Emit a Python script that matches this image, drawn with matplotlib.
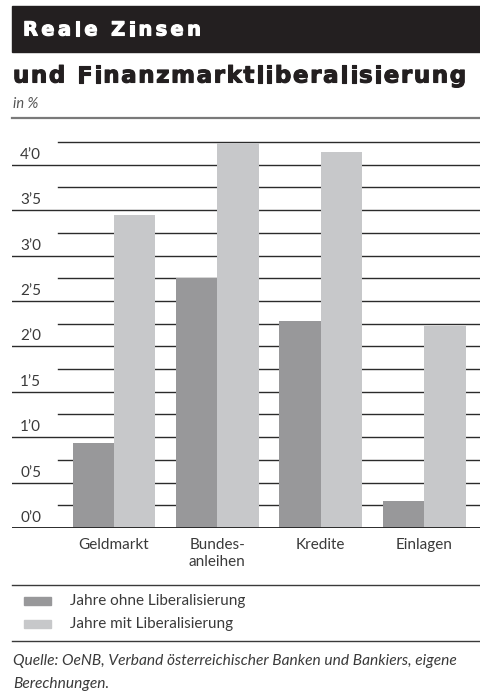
import numpy as np
import matplotlib.pyplot as plt
import matplotlib.patheffects as pe
from matplotlib.patches import Rectangle

categories = ["Geldmarkt", "Bundes-\nanleihen", "Kredite", "Einlagen"]
ohne_lib = [0.94, 2.75, 2.28, 0.30]
mit_lib = [3.45, 4.24, 4.14, 2.22]
tick_values = [0.0, 0.5, 1.0, 1.5, 2.0, 2.5, 3.0, 3.5, 4.0]
tick_labels = ["0’0", "0’5", "1’0", "1’5", "2’0", "2’5", "3’0", "3’5", "4’0"]
series_names = ["Jahre ohne Liberalisierung", "Jahre mit Liberalisierung"]

dark = "#98989a"
light = "#c7c8ca"
ink = "#231f20"
txt = "#3a3a3a"
W, H = 480, 693

plt.rcParams['font.family'] = ['Lato', 'DejaVu Sans']

fig = plt.figure(figsize=(W / 100, H / 100), dpi=100)
renderer = fig.canvas.get_renderer()

def fx(px):
    return px / W

def fy(py):
    return 1 - py / H

def text_width(s, **kw):
    t = fig.text(0, 0, s, **kw)
    w = t.get_window_extent(renderer).width
    t.remove()
    return w

def spaced_text(x0, x1, y_px, s, color, **kw):
    # heading stretched with letter spacing so it runs from x0 to x1
    bar_w = text_width("|", **kw)
    full = text_width(s, **kw)
    gap = (x1 - x0 - full) / (len(s) - 1)
    heavy = [pe.withStroke(linewidth=0.8, foreground=color)]
    for i, ch in enumerate(s):
        if ch == " ":
            continue
        pre = text_width(s[:i] + "|", **kw) - bar_w if i else 0
        fig.text(fx(x0 + pre + gap * i), fy(y_px), ch, va="center", ha="left",
                 color=color, path_effects=heavy, **kw)

# header band
fig.patches.append(Rectangle((fx(12), fy(52)), fx(468), 46 / H, transform=fig.transFigure,
                             color=ink, zorder=0))
spaced_text(23, 201, 30, "Reale Zinsen", "white", fontsize=14,
            fontweight="bold", family="DejaVu Sans")
spaced_text(13, 466, 76, "und Finanzmarktliberalisierung", ink, fontsize=16.5,
            fontweight="bold", family="DejaVu Sans")
fig.text(fx(13), fy(104), "in %", color="#555555", fontsize=10.5, style="italic",
         va="center", ha="left")
fig.add_artist(plt.Line2D([fx(12), 1], [fy(118), fy(118)], color="#7a7a7a", lw=1.6))

# plot area: baseline at y=528 px, top grid line (4.25) at y=142 px
ax = fig.add_axes([fx(12), fy(528), fx(468), (528 - 142) / H])
x = np.arange(len(categories))
width = 0.40
ax.set_xlim(-0.986, 3.54)
ax.set_ylim(0, 4.25)

# alternating grid: long lines at the labelled values, short lines in between
for v in np.arange(0.5, 4.01, 0.5):
    ax.axhline(v, color="#2b2b2b", lw=1.0, zorder=1)
for v in np.arange(0.25, 4.26, 0.5):
    ax.axhline(v, xmin=0.098, color="#2b2b2b", lw=1.0, zorder=1, clip_on=False)
ax.axhline(0, color="#2b2b2b", lw=1.4, zorder=3)

ax.bar(x - width / 2, ohne_lib, width, color=dark, zorder=2)
ax.bar(x + width / 2, mit_lib, width, color=light, zorder=2)

for v, lab in zip(tick_values, tick_labels):
    ax.annotate(lab, (-0.986, v), xytext=(8, 3), textcoords="offset pixels",
                ha="left", va="bottom", fontsize=11, color=txt)

for xi, cat in zip(x, categories):
    ax.annotate(cat, (xi, 0), xytext=(0, -10), textcoords="offset pixels",
                ha="center", va="top", fontsize=11, color=txt, linespacing=1.3)

ax.axis("off")

# legend and source
fig.add_artist(plt.Line2D([fx(12), 1], [fy(585), fy(585)], color=txt, lw=1.0))
for i, (name, col) in enumerate(zip(series_names, [dark, light])):
    yy = 601 + 23 * i
    fig.patches.append(Rectangle((fx(24), fy(yy + 4)), fx(27), 8 / H,
                                 transform=fig.transFigure, color=col))
    fig.text(fx(70), fy(yy), name, fontsize=11, color=txt, va="center", ha="left")
fig.add_artist(plt.Line2D([fx(12), 1], [fy(641), fy(641)], color=txt, lw=1.0))
fig.text(fx(13), fy(661), "Quelle: OeNB, Verband österreichischer Banken und Bankiers, eigene",
         fontsize=11.2, style="italic", color=txt, va="center", ha="left")
fig.text(fx(13), fy(684), "Berechnungen.", fontsize=11.2, style="italic",
         color=txt, va="center", ha="left")

fig.savefig("out.png", dpi=100)
